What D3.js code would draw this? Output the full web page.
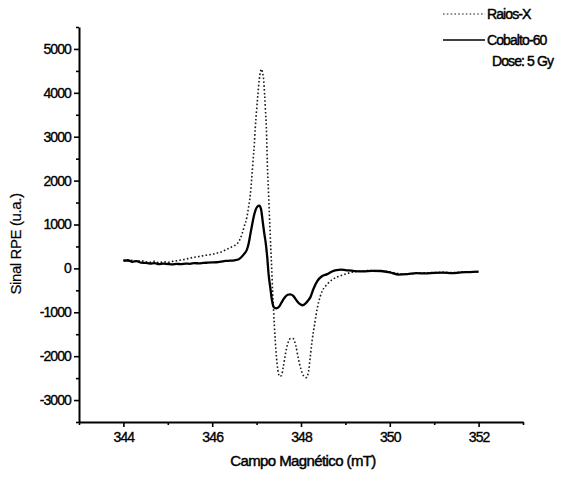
<!DOCTYPE html>
<html>
<head>
<meta charset="utf-8">
<script src="https://cdn.jsdelivr.net/npm/d3@7"></script>
<style>
  body { margin: 0; background: #fff; }
  svg text { font-family: "Liberation Sans", Arial, sans-serif; fill: #000; }
  .axis path, .axis line { stroke: #000; }
  .axis path { stroke-width: 2px; }
  .axis line { stroke-width: 1.6px; }
  .axis text { font-size: 14px; letter-spacing: -0.9px; stroke: #000; stroke-width: 0.35px; }
</style>
</head>
<body>
<div id="chart"></div>
<script>
// Raios-X (dotted)
const campoRaiosX = [
  344.00, 344.10, 344.20, 344.30, 344.40, 344.50, 344.60, 344.70, 344.80, 344.90,
  345.00, 345.10, 345.20, 345.30, 345.40, 345.50, 345.60, 345.70, 345.80, 345.90,
  346.00, 346.10, 346.20, 346.30, 346.40, 346.50, 346.56, 346.62, 346.67, 346.72,
  346.78, 346.82, 346.86, 346.89, 346.92, 346.95, 346.97, 347.00, 347.03, 347.06,
  347.09, 347.11, 347.13, 347.16, 347.18, 347.20, 347.22, 347.24, 347.27, 347.30,
  347.32, 347.34, 347.36, 347.38, 347.40, 347.42, 347.45, 347.48, 347.52, 347.56,
  347.60, 347.65, 347.70, 347.76, 347.82, 347.88, 347.94, 348.00, 348.06, 348.12,
  348.17, 348.21, 348.25, 348.31, 348.37, 348.43, 348.48, 348.54, 348.59, 348.70,
  348.80, 348.89, 349.00, 349.12, 349.25, 349.40, 349.60, 349.80, 350.00, 350.20,
  350.40, 350.60, 350.80, 351.00, 351.20, 351.40, 351.60, 351.80, 352.00
];
const raiosX = [
  190, 170, 185, 160, 175, 150, 140, 160, 130, 150,
  140, 160, 175, 190, 210, 235, 255, 270, 290, 305,
  320, 345, 375, 420, 470, 520, 560, 650, 780, 950,
  1160, 1400, 1690, 2050, 2450, 2850, 3200, 3600, 3970, 4300,
  4500, 4540, 4480, 4280, 3970, 3600, 3200, 2450, 1690, 930,
  450, 0, -500, -900, -1300, -1650, -2050, -2320, -2460, -2440,
  -2250, -1950, -1720, -1600, -1600, -1750, -2050, -2300, -2450, -2490,
  -2350, -2000, -1650, -1250, -890, -650, -510, -420, -360, -260,
  -200, -170, -130, -95, -70, -55, -50, -60, -80, -120,
  -130, -110, -100, -95, -90, -95, -85, -75, -80
];

// Cobalto-60 (solid)
const campoCobalto = [
  344.00, 344.10, 344.20, 344.30, 344.40, 344.50, 344.60, 344.70, 344.80, 344.90,
  345.00, 345.10, 345.20, 345.30, 345.40, 345.50, 345.60, 345.70, 345.80, 345.90,
  346.00, 346.10, 346.20, 346.30, 346.40, 346.50, 346.60, 346.66, 346.72, 346.78,
  346.82, 346.86, 346.90, 346.94, 346.98, 347.02, 347.06, 347.10, 347.14, 347.18,
  347.20, 347.24, 347.27, 347.31, 347.35, 347.39, 347.44, 347.50, 347.56, 347.62,
  347.70, 347.76, 347.82, 347.90, 347.97, 348.04, 348.10, 348.16, 348.21, 348.28,
  348.37, 348.47, 348.59, 348.70, 348.80, 348.90, 349.00, 349.20, 349.40, 349.60,
  349.80, 350.00, 350.20, 350.40, 350.60, 350.80, 351.00, 351.20, 351.40, 351.60,
  351.80, 352.00
];
const cobalto = [
  170, 185, 150, 165, 130, 125, 110, 120, 95, 110,
  100, 90, 105, 95, 110, 105, 120, 115, 125, 130,
  135, 140, 155, 170, 175, 185, 210, 260, 330, 420,
  560, 780, 1000, 1200, 1340, 1410, 1430, 1350, 1050, 750,
  620, 250, -130, -450, -750, -890, -910, -880, -780, -680,
  -600, -590, -620, -730, -810, -840, -800, -730, -660, -470,
  -285, -180, -130, -70, -40, -30, -40, -60, -70, -55,
  -60, -90, -140, -130, -110, -115, -100, -95, -110, -90,
  -85, -75
];

const xTicks = [344, 346, 348, 350, 352];
const xMinorTicks = [343, 345, 347, 349, 351, 353];
const yTicks = [-3000, -2000, -1000, 0, 1000, 2000, 3000, 4000, 5000];
const yMinorTicks = [-3500, -2500, -1500, -500, 500, 1500, 2500, 3500, 4500, 5500];

const legendLabels = ["Raios-X", "Cobalto-60"];
const doseLabel = "Dose: 5 Gy";

const width = 575, height = 482;
const margin = {top: 27, right: 52, bottom: 60, left: 79};

const svg = d3.select("#chart").append("svg")
  .attr("width", width)
  .attr("height", height);

const x = d3.scaleLinear().domain([343, 353]).range([margin.left, width - margin.right]);
const y = d3.scaleLinear().domain([-3500, 5500]).range([height - margin.bottom, margin.top]);

const plain = d => String(d);   // keep ASCII hyphen for negatives

// minor ticks
svg.append("g")
  .attr("class", "axis")
  .attr("transform", `translate(0,${height - margin.bottom})`)
  .call(d3.axisBottom(x).tickValues(xMinorTicks).tickSize(3).tickFormat(""))
  .select(".domain").remove();
svg.append("g")
  .attr("class", "axis")
  .attr("transform", `translate(${margin.left},0)`)
  .call(d3.axisLeft(y).tickValues(yMinorTicks).tickSize(3).tickFormat(""))
  .select(".domain").remove();

// major axes
svg.append("g")
  .attr("class", "axis")
  .attr("transform", `translate(0,${height - margin.bottom})`)
  .call(d3.axisBottom(x).tickValues(xTicks).tickSize(5).tickSizeOuter(0).tickPadding(5).tickFormat(plain));
svg.append("g")
  .attr("class", "axis")
  .attr("transform", `translate(${margin.left},0)`)
  .call(d3.axisLeft(y).tickValues(yTicks).tickSize(5).tickSizeOuter(0).tickPadding(3).tickFormat(plain));

const line = d3.line()
  .x(d => x(d[0]))
  .y(d => y(d[1]))
  .curve(d3.curveMonotoneX);

svg.append("path")
  .datum(d3.zip(campoRaiosX, raiosX))
  .attr("fill", "none")
  .attr("stroke", "#1a1a1a")
  .attr("stroke-width", 1.6)
  .attr("stroke-dasharray", "1.6,2.2")
  .attr("d", line);

svg.append("path")
  .datum(d3.zip(campoCobalto, cobalto))
  .attr("fill", "none")
  .attr("stroke", "#000")
  .attr("stroke-width", 2.3)
  .attr("d", line);

// axis titles
svg.append("text")
  .attr("x", (margin.left + width - margin.right) / 2 + 2)
  .attr("y", 466)
  .attr("text-anchor", "middle")
  .attr("font-size", 15)
  .attr("letter-spacing", -0.6)
  .attr("stroke", "#000").attr("stroke-width", 0.45)
  .text("Campo Magnético (mT)");

svg.append("text")
  .attr("transform", "translate(21,244) rotate(-90)")
  .attr("text-anchor", "middle")
  .attr("font-size", 15)
  .attr("letter-spacing", -0.4)
  .attr("stroke", "#000").attr("stroke-width", 0.2)
  .text("Sinal RPE (u.a.)");

// legend
const legend = svg.append("g");
const legendY = [14, 40];
legendLabels.forEach((label, i) => {
  legend.append("line")
    .attr("x1", 443).attr("x2", 485)
    .attr("y1", legendY[i]).attr("y2", legendY[i])
    .attr("stroke", i === 0 ? "#222" : "#000")
    .attr("stroke-width", i === 0 ? 1.2 : 1.6)
    .attr("stroke-dasharray", i === 0 ? "1.6,2.2" : null);
  legend.append("text")
    .attr("x", 487).attr("y", legendY[i] + 5)
    .attr("font-size", 14)
    .attr("letter-spacing", -0.9)
    .attr("stroke", "#000").attr("stroke-width", 0.45)
    .text(label);
});
legend.append("text")
  .attr("x", 492).attr("y", 66)
  .attr("font-size", 14)
  .attr("letter-spacing", -0.9)
  .attr("stroke", "#000").attr("stroke-width", 0.45)
  .text(doseLabel);
</script>
</body>
</html>
